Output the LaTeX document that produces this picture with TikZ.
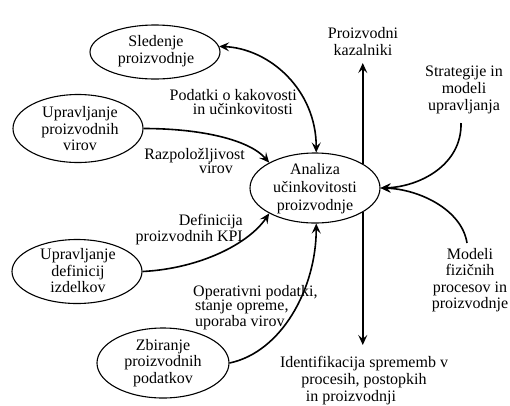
\documentclass[tikz,border=0pt]{standalone}
\usepackage{fontspec}
\setmainfont{Liberation Serif}
\usetikzlibrary{arrows.meta,shapes.geometric}
\begin{document}
\begin{tikzpicture}[x=1pt,y=-1pt,
  ell/.style={draw, ellipse, line width=1.1pt, fill=white, inner sep=0pt},
  etext/.style={align=center, font=\fontsize{16}{16.5}\selectfont, inner sep=0pt},
  otext/.style={align=center, font=\fontsize{16}{17}\selectfont, inner sep=0pt},
  lbl/.style={font=\fontsize{16}{14}\selectfont, inner sep=0pt},
  tip/.style={-{Stealth[length=10pt,width=9pt,inset=4pt]}},
  conn/.style={line width=1.6pt, tip},
  bconn/.style={line width=1.6pt, {Stealth[length=10pt,width=9pt,inset=4pt]}-{Stealth[length=10pt,width=9pt,inset=4pt]}},
]
\useasboundingbox (0,0) rectangle (510,405);

% ellipses
\node[ell, minimum width=130pt, minimum height=54pt] (S) at (155,52) {};
\node[etext] (St) at (156,51) {Sledenje\\proizvodnje};
\node[ell, minimum width=130pt, minimum height=68pt] (V) at (78,128.5) {};
\node[etext] (Vt) at (80,129) {Upravljanje\\proizvodnih\\virov};
\node[ell, minimum width=130pt, minimum height=70pt] (A) at (315,188) {};
\node[etext, font=\fontsize{16}{18}\selectfont] (At) at (315,189) {Analiza\\učinkovitosti\\proizvodnje};
\node[ell, minimum width=130pt, minimum height=64pt] (D) at (77,271.5) {};
\node[etext] (Dt) at (78,271) {Upravljanje\\definicij\\izdelkov};
\node[ell, minimum width=132pt, minimum height=70pt] (Z) at (163,363) {};
\node[etext] (Zt) at (163,363) {Zbiranje\\proizvodnih\\podatkov};

% outer texts
\node[otext] (PK) at (363,41.5) {Proizvodni\\kazalniki};
\node[otext] (SM) at (464,90) {Strategije in\\modeli\\upravljanja};
\node[etext] (MF) at (470,280) {Modeli\\fizičnih\\procesov in\\proizvodnje};
\node[otext] (IS) at (364,381) {Identifikacija sprememb v\\procesih, postopkih\\in proizvodnji\hspace*{26pt}};

% edge labels
\node[lbl, align=right, anchor=east] (L1) at (297,102) {Podatki o kakovosti\\in učinkovitosti\hspace*{4pt}};
\node[lbl, align=right, anchor=east] (L2) at (245,161) {Razpoložljivost\\virov\hspace*{12pt}};
\node[lbl, align=right, anchor=east] (L3) at (243,229.5) {Definicija\\proizvodnih KPI};
\node[lbl, align=left, anchor=west] (L4) at (193,307.5) {Operativni podatki,\\\hspace*{2pt}stanje opreme,\\\hspace*{2pt}uporaba virov};

% free ends
\coordinate (uptip) at (362,63);
\coordinate (dntip) at (362,345);
\coordinate (smstart) at (461,123);
\coordinate (mfstart) at (467,243);

% connectors
\draw[bconn] (S.5) .. controls +(50,2) and +(0,-63) .. (A.88);
\draw[conn] (V.east) .. controls +(57,0) and +(-20,-23) .. (A.151);
\draw[conn] (D.east) .. controls +(58,-3) and +(-20,30) .. (A.209);
\draw[conn] (Z.east) .. controls +(52,-11) and +(0,65) .. (A.-88);
\draw[conn] (smstart) .. controls +(1,42) and +(39,-1) .. (A.east);
\draw[conn] (mfstart) .. controls +(-5,-33) and +(39,1) .. (A.east);
\draw[conn] (A.27.2) -- (A.27.2 |- uptip);
\draw[conn] (A.-27.2) -- (A.-27.2 |- dntip);
\end{tikzpicture}
\end{document}
